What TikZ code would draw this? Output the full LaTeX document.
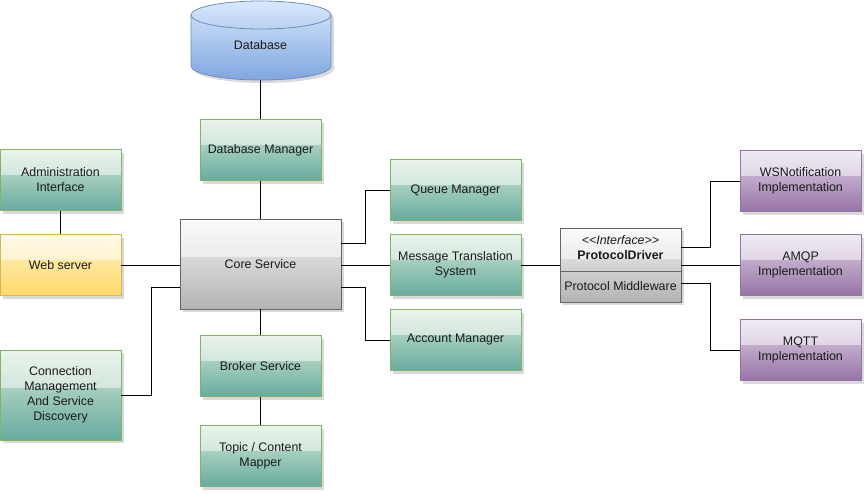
\documentclass[tikz,border=0pt]{standalone}
\usepackage{fontspec}
\setmainfont{Liberation Sans}
\usetikzlibrary{calc,shadows}
\definecolor{grnTop}{HTML}{D5E8D4}
\definecolor{grnBot}{HTML}{67AB9F}
\definecolor{grnLine}{HTML}{82B366}
\definecolor{ylwTop}{HTML}{FFF2CC}
\definecolor{ylwBot}{HTML}{FFD966}
\definecolor{ylwLine}{HTML}{D6B656}
\definecolor{gryTop}{HTML}{F5F5F5}
\definecolor{gryBot}{HTML}{B3B3B3}
\definecolor{gryLine}{HTML}{666666}
\definecolor{bluTop}{HTML}{DAE8FC}
\definecolor{bluBot}{HTML}{7EA6E0}
\definecolor{bluLine}{HTML}{6C8EBF}
\definecolor{prpTop}{HTML}{E1D5E7}
\definecolor{prpBot}{HTML}{9673A6}
\definecolor{txt}{HTML}{1A1A1A}
\tikzset{
  glass/.style={path picture={\fill[white,fill opacity=.5] (path picture bounding box.north west) rectangle ($(path picture bounding box.north east)!.42!(path picture bounding box.south east)$);}},
  txtstyle/.style={text=txt, align=center, font=\fontsize{12.4}{15}\selectfont},
  box/.style={rectangle, draw, line width=.8pt, glass, txtstyle, minimum width=121pt, minimum height=61pt, inner sep=2pt,
    drop shadow={shadow xshift=3pt,shadow yshift=-3pt,fill=black,opacity=.15}},
  grnbox/.style={box, draw=grnLine, top color=grnTop, bottom color=grnBot},
  ylwbox/.style={box, draw=ylwLine, top color=ylwTop, bottom color=ylwBot},
  grybox/.style={box, draw=gryLine, top color=gryTop, bottom color=gryBot},
  prpbox/.style={box, draw=prpBot, top color=prpTop, bottom color=prpBot},
  link/.style={draw=black, line width=.8pt}
}

\begin{document}
\begin{tikzpicture}[x=1pt,y=-1pt]
      \useasboundingbox (0,0) rectangle (864,493);

      % database cylinder
      \fill[black,opacity=.15,xshift=3pt,yshift=-3pt] (191,15) -- (191,66) arc[start angle=180,end angle=360,x radius=70pt,y radius=14pt] -- (331,15) arc[start angle=0,end angle=180,x radius=70pt,y radius=14pt] -- cycle;
      \shade[top color=bluTop,bottom color=bluBot,draw=bluLine,line width=.8pt] (191,15) -- (191,66) arc[start angle=180,end angle=360,x radius=70pt,y radius=14pt] -- (331,15) arc[start angle=0,end angle=180,x radius=70pt,y radius=14pt] -- cycle;
      \draw[bluLine,line width=.8pt] (191,15) arc[start angle=180,end angle=360,x radius=70pt,y radius=14pt];
      \node[txtstyle, minimum width=140pt, minimum height=70pt] (db) at (260.5,45) {Database};

      % centre column
      \node[grnbox] (dbm) at (260.5,150) {Database Manager};
      \node[grybox, minimum width=161pt, minimum height=90pt] (core) at (260.5,264) {Core Service};
      \node[grnbox] (broker) at (260.5,366) {Broker Service};
      \node[grnbox] (topic) at (260.5,456) {Topic / Content\\Mapper};

      % left column
      \node[grnbox] (admin) at (60.5,180) {Administration\\Interface};
      \node[ylwbox] (web) at (60.5,265) {Web server};
      \node[grnbox, minimum height=90pt] (conn) at (60.5,395) {Connection\\Management\\And Service\\Discovery};

      % right of core
      \node[grnbox, minimum width=131pt] (queue) at (455.5,190) {Queue Manager};
      \node[grnbox, minimum width=131pt] (mts) at (455.5,265) {Message Translation\\System};
      \node[grnbox, minimum width=131pt] (acct) at (455.5,340) {Account Manager};

      % protocol driver
      \node[grybox, minimum height=74pt] (pd) at (620.5,265) {};
      \node[txtstyle] (pdname) at (620.5,248) {\textit{<\kern0pt<Interface>\kern0pt>}\\\textbf{ProtocolDriver}};
      \node[txtstyle, draw=gryLine, line width=.8pt, minimum width=121pt, minimum height=31pt, inner sep=1pt, anchor=south] (pdmw) at (pd.south) {Protocol Middleware};

      % implementations
      \node[prpbox] (ws) at (800.5,181) {WSNotification\\Implementation};
      \node[prpbox] (amqp) at (800.5,265) {AMQP\\Implementation};
      \node[prpbox] (mqtt) at (800.5,350) {MQTT\\Implementation};

      \draw[link] (db.south) -- (dbm.north);
      \draw[link] (dbm) -- (core);
      \draw[link] (core) -- (broker);
      \draw[link] (broker) -- (topic);
      \draw[link] (admin) -- (web);
      \draw[link] (web.east) -- (web.east -| core.west);
      \draw[link] (conn.east) -- ++(30,0) |- ([yshift=-23pt]core.west);
      \draw[link] ([yshift=21pt]core.east) -- ++(24,0) |- (queue.west);
      \draw[link] (mts.west -| core.east) -- (mts.west);
      \draw[link] ([yshift=-23pt]core.east) -- ++(24,0) |- (acct.west);
      \draw[link] (mts) -- (pd);
      \draw[link] ([yshift=18pt]pd.east) -- ++(29,0) |- (ws.west);
      \draw[link] (pd) -- (amqp);
      \draw[link] ([yshift=-18pt]pd.east) -- ++(29,0) |- (mqtt.west);
    \end{tikzpicture}
\end{document}
